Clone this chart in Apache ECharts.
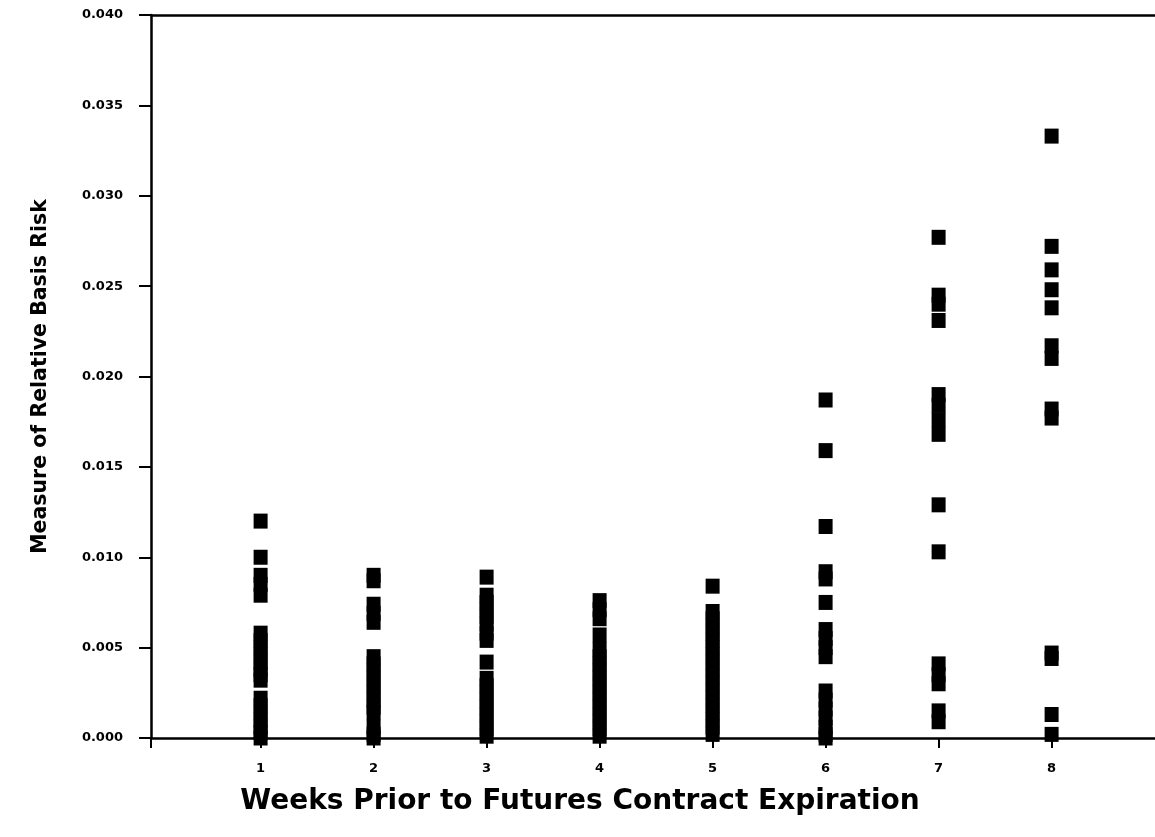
<!DOCTYPE html>
<html>
<head>
<meta charset="utf-8">
<script src="https://cdn.jsdelivr.net/npm/echarts@6/dist/echarts.min.js"></script>
<style>html,body{margin:0;padding:0;background:#fff;}#c{width:1155px;height:837px;}</style>
</head>
<body>
<div id="c"></div>
<script>
var weeks = [1, 2, 3, 4, 5, 6, 7, 8];
var week1 = [0.0120, 0.0100, 0.0090, 0.0085, 0.0079, 0.0058, 0.0054, 0.0050, 0.0046, 0.0042, 0.0038, 0.0035, 0.0032, 0.0022, 0.0018, 0.0014, 0.0010, 0.0006, 0.0003, 0.0000];
var week2 = [0.0090, 0.0087, 0.0074, 0.0069, 0.0064, 0.0045, 0.0041, 0.0037, 0.0033, 0.0029, 0.0025, 0.0021, 0.0017, 0.0014, 0.0006, 0.0002, 0.0000];
var week3 = [0.0089, 0.0079, 0.0075, 0.0071, 0.0067, 0.0063, 0.0058, 0.0054, 0.0042, 0.0033, 0.0029, 0.0025, 0.0021, 0.0017, 0.0013, 0.0009, 0.0005, 0.0001];
var week4 = [0.0076, 0.0071, 0.0066, 0.0057, 0.0049, 0.0045, 0.0041, 0.0037, 0.0033, 0.0029, 0.0025, 0.0021, 0.0017, 0.0013, 0.0009, 0.0005, 0.0001];
var week5 = [0.0084, 0.0070, 0.0066, 0.0062, 0.0058, 0.0054, 0.0050, 0.0046, 0.0042, 0.0038, 0.0034, 0.0030, 0.0026, 0.0022, 0.0018, 0.0014, 0.0010, 0.0006, 0.0002];
var week6 = [0.0187, 0.0159, 0.0117, 0.0092, 0.0088, 0.0075, 0.0060, 0.0055, 0.0050, 0.0045, 0.0026, 0.0021, 0.0016, 0.0011, 0.0006, 0.0002, 0.0000];
var week7 = [0.0277, 0.0245, 0.0240, 0.0231, 0.0190, 0.0184, 0.0176, 0.0168, 0.0129, 0.0103, 0.0041, 0.0035, 0.0030, 0.0015, 0.0009];
var week8 = [0.0333, 0.0272, 0.0259, 0.0248, 0.0238, 0.0217, 0.0210, 0.0182, 0.0177, 0.0047, 0.0044, 0.0013, 0.0002];
var yTicks = [0, 0.005, 0.010, 0.015, 0.020, 0.025, 0.030, 0.035, 0.040];

var columns = [week1, week2, week3, week4, week5, week6, week7, week8];
var points = [];
columns.forEach(function (col, i) {
  col.forEach(function (v) { points.push([weeks[i], v]); });
});

var font = 'DejaVu Sans';
var chart = echarts.init(document.getElementById('c'), null, {renderer: 'canvas'});
chart.setOption({
  animation: false,
  backgroundColor: '#fff',
  grid: {left: 151, top: 15, right: 0, bottom: 99, containLabel: false},
  xAxis: [{
    type: 'value', min: 0.03, max: 8.915, position: 'bottom',
    splitLine: {show: false},
    axisLine: {show: true, onZero: false, lineStyle: {color: '#000', width: 2.5}},
    axisTick: {show: true, length: 10, lineStyle: {color: '#000', width: 2}, customValues: [0.03].concat(weeks)},
    axisLabel: {show: true, margin: 24, color: '#000', fontFamily: font, fontWeight: 'bold', fontSize: 13, customValues: weeks, formatter: function (v) { return String(Math.round(v)); }}
  }, {
    type: 'value', min: 0.03, max: 8.915, position: 'top',
    splitLine: {show: false},
    axisLine: {show: true, onZero: false, lineStyle: {color: '#000', width: 2.5}},
    axisTick: {show: false}, axisLabel: {show: false}
  }],
  yAxis: {
    type: 'value', min: 0, max: 0.04, interval: 0.005,
    splitLine: {show: false},
    axisLine: {show: true, onZero: false, lineStyle: {color: '#000', width: 2.5}},
    axisTick: {show: true, length: 12, lineStyle: {color: '#000', width: 2}},
    axisLabel: {margin: 28, color: '#000', fontFamily: font, fontWeight: 'bold', fontSize: 13, formatter: function (v) { return v.toFixed(3); }},
    name: 'Measure of Relative Basis Risk', nameLocation: 'middle', nameRotate: 90, nameGap: 100,
    nameTextStyle: {color: '#000', fontFamily: font, fontWeight: 'bold', fontSize: 20.5}
  },
  graphic: [{
    type: 'text', x: 580, y: 788,
    style: {text: 'Weeks Prior to Futures Contract Expiration', fill: '#000', align: 'center', font: 'bold 28px "DejaVu Sans"'}
  }],
  series: [{
    type: 'scatter', xAxisIndex: 0, yAxisIndex: 0,
    symbol: 'rect', symbolSize: [14, 15],
    itemStyle: {color: '#000', opacity: 1},
    data: points
  }]
});
</script>
</body>
</html>
